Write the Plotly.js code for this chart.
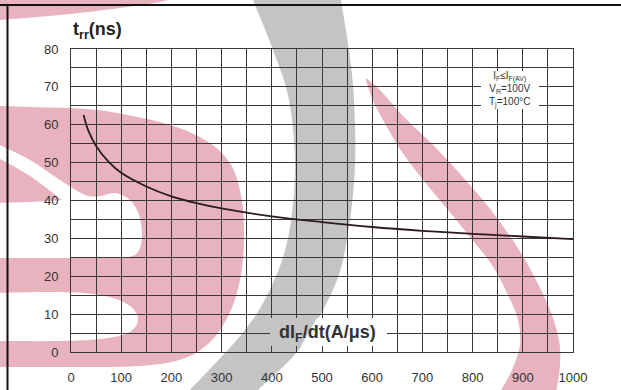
<!DOCTYPE html>
<html>
<head>
<meta charset="utf-8">
<script src="https://cdn.plot.ly/plotly-3.0.1.min.js"></script>
<style>
  html, body { margin: 0; padding: 0; background: #fff; }
  #chart { width: 621px; height: 390px; }
</style>
</head>
<body>
<div id="chart"></div>
<script>
// Reverse recovery time t_rr versus current slope dI_F/dt
const dIdt = [25, 35, 50, 75, 100, 150, 200, 250, 300, 400, 500, 600, 700, 800, 900, 1000];
const trr  = [62.6, 58.3, 54.4, 50.2, 47.3, 43.7, 41.1, 39.3, 37.9, 35.8, 34.3, 33.0, 32.0, 31.2, 30.5, 29.8];

const xTickVals = [0, 100, 200, 300, 400, 500, 600, 700, 800, 900, 1000];
const yTickVals = [0, 10, 20, 30, 40, 50, 60, 70, 80];

const yTitle = '<b>t<sub>rr</sub>(ns)</b>';
const xTitle = '<b>dI<sub>F</sub>/dt(A/μs)</b>';
const conditionLines = ['I<sub>F</sub>≤I<sub>F(AV)</sub>', 'V<sub>R</sub>=100V', 'T<sub>j</sub>=100°C'];

// ---- page geometry (pixels) ----
const PLOT_L = 71, PLOT_R = 573, PLOT_T = 49, PLOT_B = 352;
const GRID = '#383838';
const PINK = '#e8b3bf';
const GREY = '#c4c4c4';

function toPaper(p) {
  return [(p[0] - PLOT_L) / (PLOT_R - PLOT_L), (PLOT_B - p[1]) / (PLOT_B - PLOT_T)];
}
function fmt(p) { const q = toPaper(p); return q[0].toFixed(4) + ',' + q[1].toFixed(4); }

// Closed path built from open Catmull-Rom chains joined by straight segments
function chainPath(chains) {
  let d = '';
  chains.forEach((c, ci) => {
    d += (ci === 0 ? 'M' : 'L') + fmt(c[0]);
    for (let i = 0; i < c.length - 1; i++) {
      const p0 = c[Math.max(i - 1, 0)], p1 = c[i], p2 = c[i + 1], p3 = c[Math.min(i + 2, c.length - 1)];
      const c1 = [p1[0] + (p2[0] - p0[0]) / 6, p1[1] + (p2[1] - p0[1]) / 6];
      const c2 = [p2[0] - (p3[0] - p1[0]) / 6, p2[1] - (p3[1] - p1[1]) / 6];
      d += 'C' + fmt(c1) + ' ' + fmt(c2) + ' ' + fmt(p2);
    }
  });
  return d + 'Z';
}

function logoShape(chains, color, layer) {
  return { type: 'path', xref: 'paper', yref: 'paper', layer: layer || 'below',
           path: chainPath(chains), fillcolor: color, line: { width: 0 } };
}
function pixelRect(x0, y0, x1, y1, color) {
  const a = toPaper([x0, y0]), b = toPaper([x1, y1]);
  return { type: 'rect', xref: 'paper', yref: 'paper', layer: 'above',
           x0: a[0], y0: b[1], x1: b[0], y1: a[1], fillcolor: color, line: { width: 0 } };
}

// background logo watermark outlines
const pinkArcLeft = [[[-30,106],[0,106],[30,107],[97,110],[163,123],[205,140],[230,163],[241,195],[244,230],[242,268],[233,305],[214,338],[185,358],[140,366],[60,367],[0,367],[-30,367]]];
const whiteCutUpper = [
  [[-10,140],[0,145],[30,160],[60,180],[85,195],[100,196],[115,193],[130,200],[139,215],[142,235],[139,250],[128,257],[90,258],[-10,258]],
  [[-10,203],[30,202],[62,200]],
  [[62,200],[30,176],[0,159],[-10,154]]
];
const whiteCutLower = [[[-10,293],[60,292],[105,296],[130,306],[138,320],[128,333],[100,339],[60,341],[-10,341]]];
const pinkWedgeTop = [[[-10,-10],[175,-10],[168,0],[120,8],[60,15],[0,20],[-10,21]]];
const pinkArcRight = [
  [[366,78],[380,90],[405,118],[434,146],[462,176],[491,210],[516,245],[536,280],[550,310],[559,340],[560,365],[556,392],[552,400]],
  [[495,400],[500,392],[512,370],[520,345],[518,320],[508,295],[492,265],[470,237],[448,210],[425,182],[402,152],[383,120],[372,98],[366,80]]
];
const greyBand = [
  [[250,-10],[253,0],[273,50],[289,100],[295,167],[289,233],[273,283],[245,330],[190,390],[180,400]],
  [[250,400],[258,390],[300,348],[335,285],[348,233],[355,167],[354,100],[349,50],[341,0],[340,-10]]
];
// part of the grey band that sits over the axis-title box
const xTitleBoxGrey = [[[270,318],[317,318],[301,346],[270,346]]];

const shapes = [
  logoShape(pinkArcLeft, PINK),
  logoShape(whiteCutUpper, '#ffffff'),
  logoShape(whiteCutLower, '#ffffff'),
  logoShape(pinkWedgeTop, PINK),
  logoShape(pinkArcRight, PINK),
  logoShape(greyBand, GREY),
  // label backgrounds over the grid
  pixelRect(270, 318, 387, 346, '#ffffff'),
  { type: 'path', xref: 'paper', yref: 'paper', layer: 'above',
    path: xTitleBoxGrey[0].map((p, i) => (i ? 'L' : 'M') + fmt(p)).join('') + 'Z',
    fillcolor: GREY, line: { width: 0 } },
  pixelRect(481, 71, 539, 109, '#ffffff'),
  // page frame lines
  { type: 'line', xref: 'paper', yref: 'paper', layer: 'above',
    x0: toPaper([-5,5])[0], x1: toPaper([630,5])[0], y0: toPaper([0,5])[1], y1: toPaper([0,5])[1],
    line: { color: '#111', width: 2 } },
  { type: 'line', xref: 'paper', yref: 'paper', layer: 'above',
    x0: toPaper([7.5,0])[0], x1: toPaper([7.5,0])[0], y0: toPaper([0,5])[1], y1: toPaper([0,400])[1],
    line: { color: '#111', width: 2 } }
];

const annotations = [
  { text: yTitle, xref: 'paper', yref: 'paper', x: 0, y: toPaper([0,30])[1],
    xanchor: 'left', yanchor: 'middle', showarrow: false,
    font: { size: 18, color: '#222' } },
  { text: xTitle, xref: 'paper', yref: 'paper', x: toPaper([327,0])[0], y: toPaper([0,333])[1],
    xanchor: 'center', yanchor: 'middle', showarrow: false,
    font: { size: 18, color: '#333' } },
  { text: conditionLines.join('<br>'), xref: 'paper', yref: 'paper',
    x: toPaper([510,0])[0], y: toPaper([0,89])[1],
    xanchor: 'center', yanchor: 'middle', align: 'center', showarrow: false,
    font: { size: 10, color: '#333' } }
];

const axisBase = {
  showgrid: true, gridcolor: GRID, gridwidth: 1,
  showline: true, mirror: true, linecolor: GRID, linewidth: 1,
  zeroline: false, ticks: '', fixedrange: true,
  tickfont: { size: 13, color: '#333' }
};

const layout = {
  width: 621, height: 390,
  margin: { l: PLOT_L, r: 621 - PLOT_R, t: PLOT_T, b: 390 - PLOT_B, pad: 0 },
  paper_bgcolor: '#ffffff', plot_bgcolor: 'rgba(0,0,0,0)',
  showlegend: false,
  font: { family: '"Liberation Sans", Arial, sans-serif', color: '#333', size: 13 },
  xaxis: Object.assign({}, axisBase, {
    range: [0, 1000], tickmode: 'array', tickvals: xTickVals, ticktext: xTickVals.map(String),
    ticklabelstandoff: 13,
    minor: { tickmode: 'linear', tick0: 0, dtick: 50, showgrid: true, gridcolor: GRID, gridwidth: 1 }
  }),
  yaxis: Object.assign({}, axisBase, {
    range: [0, 80], tickmode: 'array', tickvals: yTickVals, ticktext: yTickVals.map(String),
    ticklabelstandoff: 9,
    minor: { tickmode: 'linear', tick0: 0, dtick: 5, showgrid: true, gridcolor: GRID, gridwidth: 1 }
  }),
  shapes: shapes,
  annotations: annotations
};

const traces = [{
  type: 'scatter', mode: 'lines', x: dIdt, y: trr,
  line: { color: '#2b1b22', width: 1.8, shape: 'spline', smoothing: 1 },
  hoverinfo: 'skip'
}];

Plotly.newPlot('chart', traces, layout, { staticPlot: true, displayModeBar: false });
</script>
</body>
</html>
